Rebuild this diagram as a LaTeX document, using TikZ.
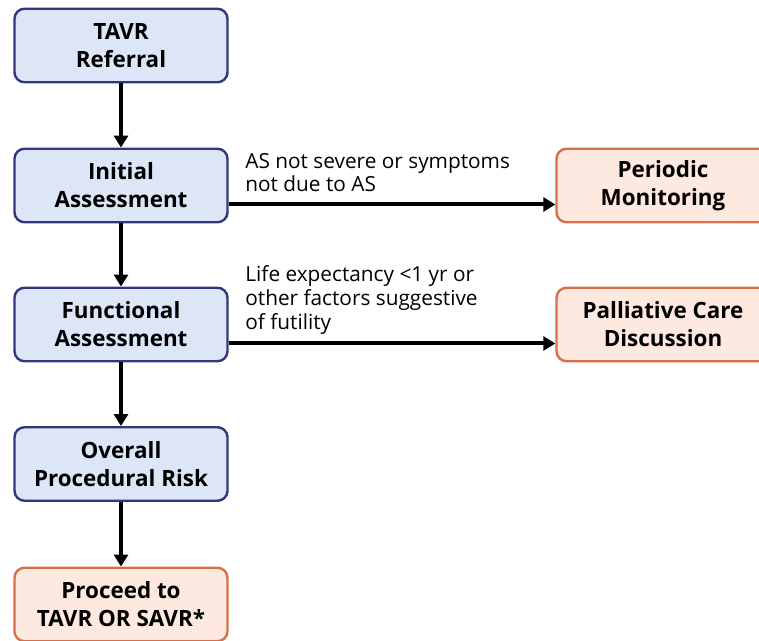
\documentclass[tikz,border=0pt]{standalone}
\usepackage{fontspec}
\setmainfont{Open Sans}
\usepackage{xcolor}
\usetikzlibrary{arrows.meta,calc}

\definecolor{stepblue}{RGB}{220,230,246}
\definecolor{stepnavy}{RGB}{50,55,125}
\definecolor{outpeach}{RGB}{253,233,223}
\definecolor{outrust}{RGB}{214,112,72}

\begin{document}
\begin{tikzpicture}
		[x=0.5pt,y=-0.5pt,
		stepbox/.style={rectangle,rounded corners=5pt,draw=stepnavy,fill=stepblue,line width=1.2pt,
			minimum width=106.5pt,minimum height=36.75pt,inner sep=0pt,align=center,
			font=\fontsize{11.2}{14}\selectfont\bfseries},
		outbox/.style={stepbox,draw=outrust,fill=outpeach},
		flow/.style={-{Triangle[width=7pt,length=6pt]},line width=2pt},
		cond/.style={anchor=west,align=left,inner sep=0pt,font=\fontsize{10.4}{11.8}\selectfont}]
		\useasboundingbox (0,0) rectangle (759,641);
		% main column
		\node[stepbox] (tavr)  at (121,45.5)  {TAVR\\Referral};
		\node[stepbox] (init)  at (121,185.5) {Initial\\Assessment};
		\node[stepbox] (func)  at (121,324.5) {Functional\\Assessment};
		\node[stepbox] (risk)  at (121,464)   {Overall\\Procedural Risk};
		\node[outbox]  (proc)  at (121,604.5) {Proceed to\\TAVR OR SAVR*};
		% side exits
		\node[outbox]  (monit) at (663,185.5) {Periodic\\Monitoring};
		\node[outbox]  (pall)  at (663,324.5) {Palliative Care\\Discussion};
		\node[cond] (lblmon) at (245,172.5) {AS not severe or symptoms\\not due to AS};
		\node[cond] (lblpal) at (245,300)   {Life expectancy <1 yr or\\other factors suggestive\\of futility};
		
		\foreach \from/\to in {tavr/init,init/func,func/risk,risk/proc}
		\draw[flow] (\from) -- (\to);
		\draw[flow] ($(init.east)!.5!(init.south east)$) -- ($(monit.west)!.5!(monit.south west)$);
		\draw[flow] ($(func.east)!.5!(func.south east)$) -- ($(pall.west)!.5!(pall.south west)$);
		\end{tikzpicture}
\end{document}
